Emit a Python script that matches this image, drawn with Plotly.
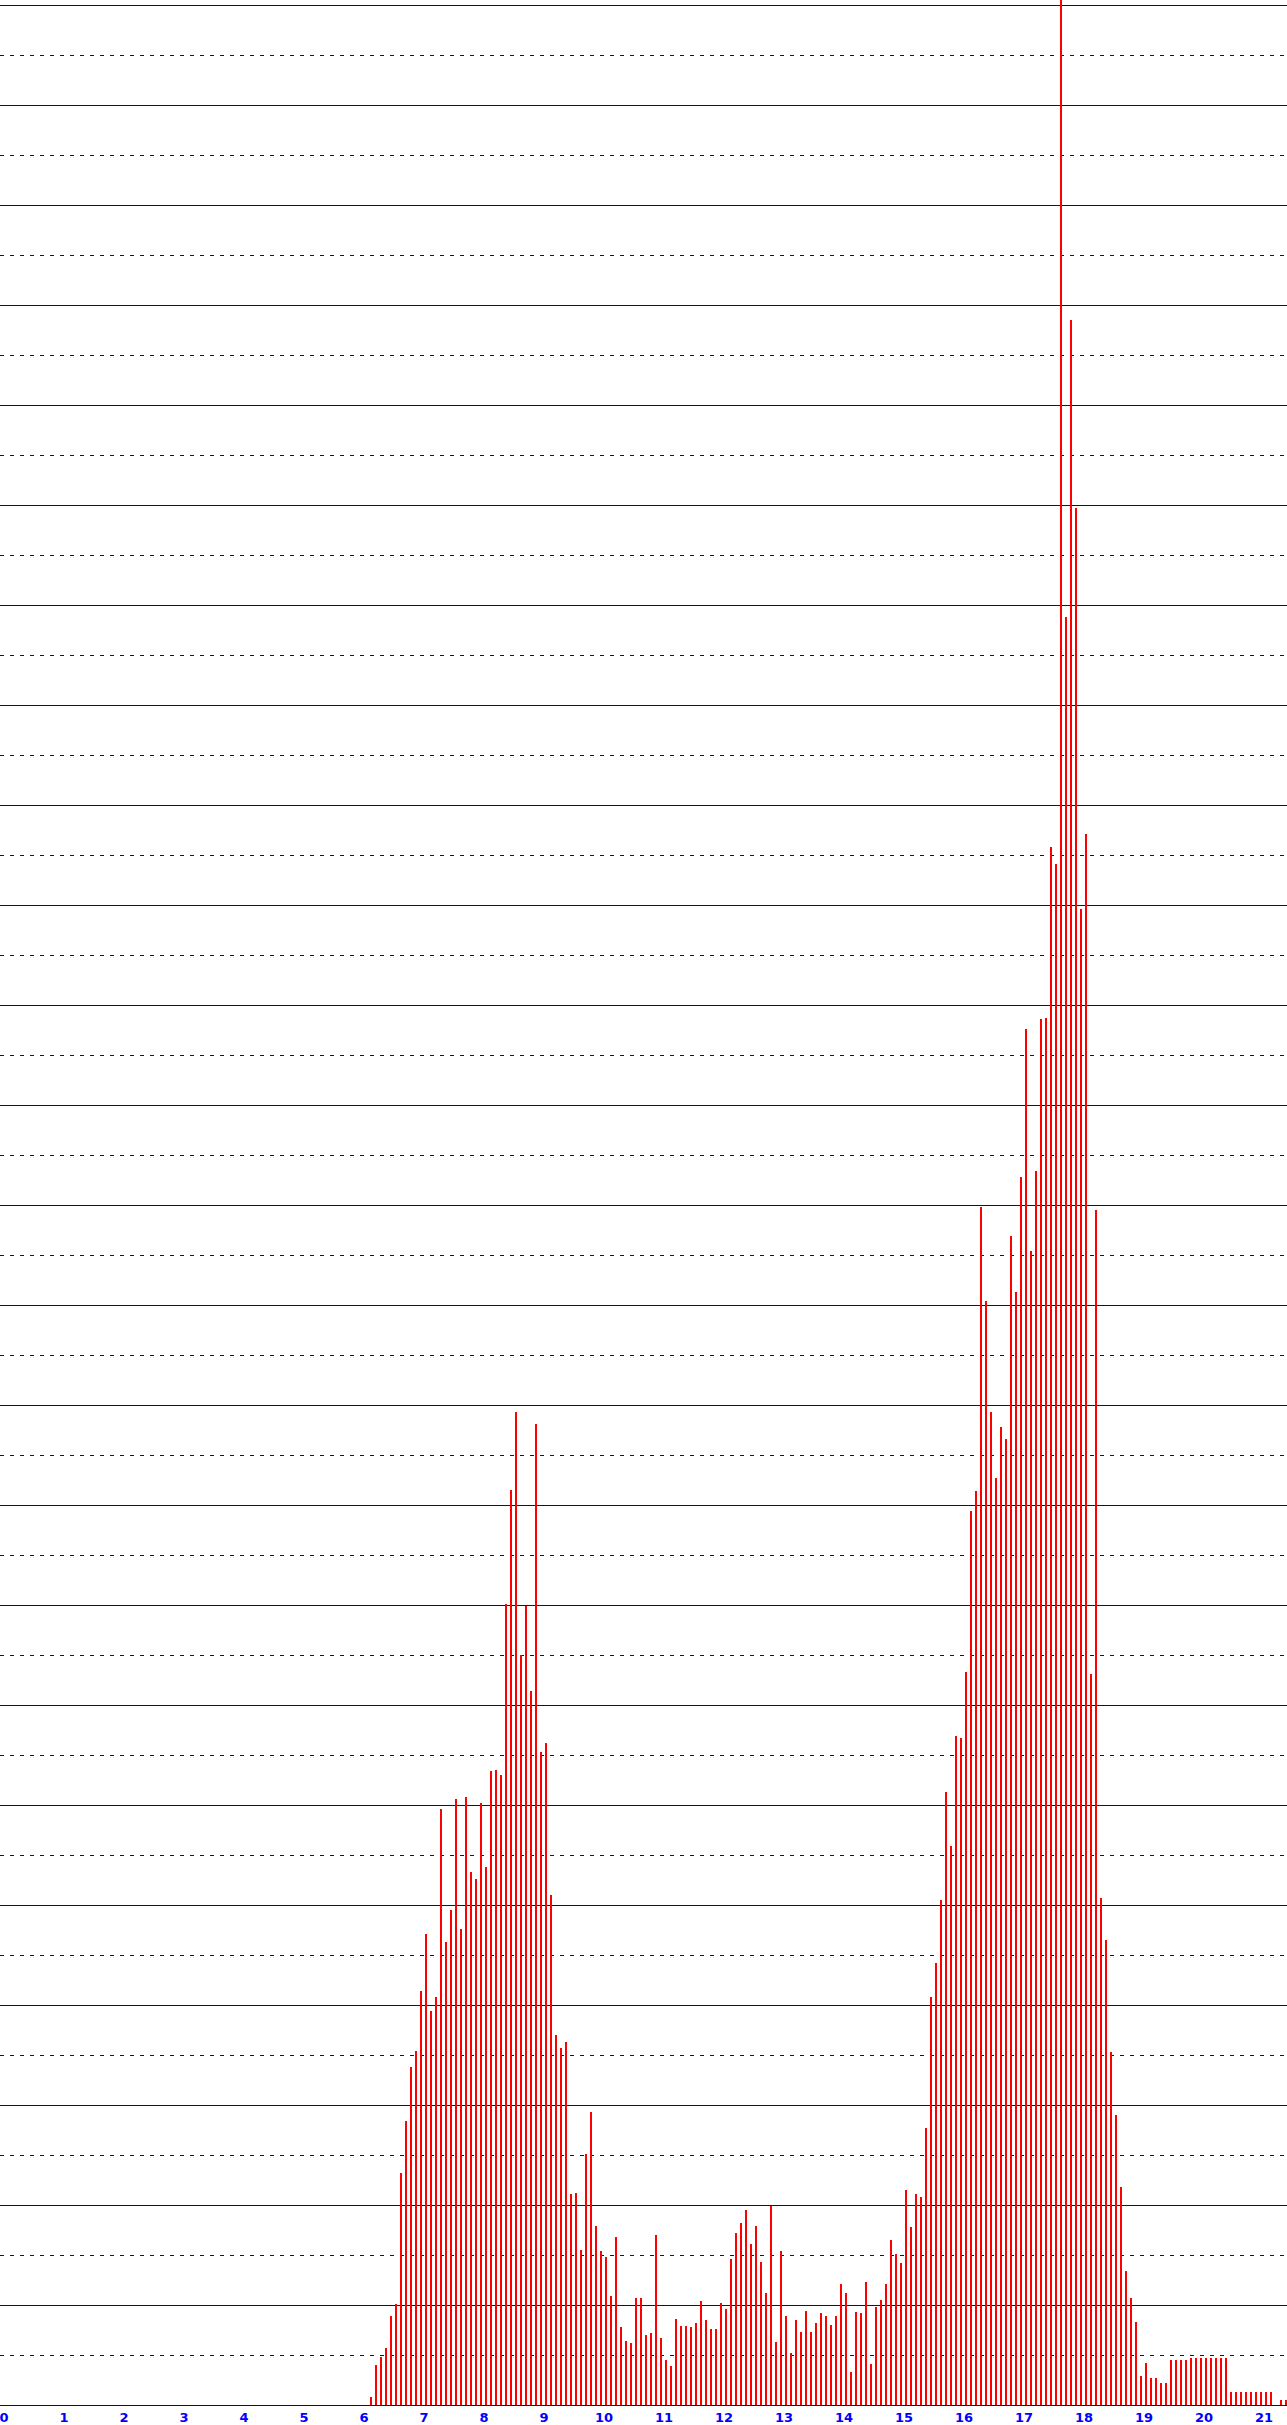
import plotly.graph_objects as go

# Histogram-style counts (value units: one solid grid line = 10)
bin_start = 73 / 12.0   # centre of first bar (x units)
bin_width = 1 / 12.0
counts = [
    0.8, 4.0, 4.8, 5.7, 8.9, 10.1, 23.2, 28.4, 33.8, 35.4,
    41.4, 47.1, 39.4, 40.8, 59.6, 46.3, 49.5, 60.6, 47.6, 60.8,
    53.3, 52.6, 60.2, 53.8, 63.4, 63.5, 63.0, 80.1, 91.5, 99.3,
    75.0, 79.9, 71.4, 98.1, 65.3, 66.2, 51.0, 37.0, 35.7, 36.3,
    21.1, 21.2, 15.5, 25.1, 29.3, 17.9, 15.4, 14.8, 10.9, 16.8,
    7.8, 6.4, 6.2, 10.7, 10.7, 7.0, 7.2, 17.0, 6.7, 4.5,
    3.9, 8.6, 7.9, 7.9, 7.8, 8.2, 10.4, 8.5, 7.6, 7.6,
    10.2, 9.6, 14.6, 17.2, 18.2, 19.5, 16.1, 17.9, 14.3, 11.2,
    19.9, 6.3, 15.4, 8.9, 5.2, 8.5, 7.3, 9.4, 7.3, 8.2,
    9.2, 8.9, 8.0, 8.9, 12.1, 11.2, 3.3, 9.3, 9.2, 12.3,
    4.1, 9.8, 10.5, 12.1, 16.5, 15.1, 14.2, 21.5, 17.8, 21.1,
    20.8, 27.7, 40.8, 44.2, 50.5, 61.3, 55.9, 66.9, 66.7, 73.3,
    89.4, 91.4, 119.8, 110.4, 99.3, 92.7, 97.8, 96.6, 116.9, 111.3,
    122.8, 137.6, 115.4, 123.4, 138.6, 138.7, 155.8, 154.1, 245.0, 178.8,
    208.5, 189.7, 149.6, 157.1, 73.1, 119.5, 50.7, 46.5, 35.3, 29.0,
    21.8, 13.4, 10.7, 8.3, 2.9, 4.2, 2.7, 2.7, 2.2, 2.2,
    4.5, 4.5, 4.5, 4.5, 4.7, 4.7, 4.7, 4.7, 4.7, 4.7,
    4.7, 4.7, 1.3, 1.3, 1.3, 1.3, 1.3, 1.3, 1.3, 1.3,
    1.3, 0.0, 0.5, 0.5,
]
x_centres = [bin_start + i * bin_width for i in range(len(counts))]
x_ticks = list(range(0, 22))
x_tick_labels = [str(t) for t in x_ticks]

BLUE = "#0000cc"

fig = go.Figure()
fig.add_trace(go.Bar(
    x=x_centres, y=counts, width=2 / 60.0,
    marker=dict(color="#ff0000", line=dict(width=0)),
    hoverinfo="skip",
))

fig.update_layout(
    width=1287, height=2425,
    margin=dict(l=0, r=0, t=0, b=20, pad=0),
    plot_bgcolor="white", paper_bgcolor="white",
    showlegend=False, bargap=0,
    xaxis=dict(
        range=[-0.1, 21.35], tickmode="array", tickvals=x_ticks, ticktext=x_tick_labels,
        showgrid=False, zeroline=False, showline=True, linecolor=BLUE, linewidth=1,
        ticks="", ticklabelshift=-2, ticklabelstandoff=0, ticklabeloverflow="allow",
        tickfont=dict(family="DejaVu Sans", size=13, color="#0000ff", weight="bold"),
        fixedrange=True,
    ),
    yaxis=dict(
        range=[0, 240.5], dtick=10, tick0=0, showticklabels=False, ticks="",
        showgrid=True, gridcolor=BLUE, gridwidth=1, zeroline=False,
        minor=dict(dtick=5, tick0=5, showgrid=True, gridcolor=BLUE, gridwidth=1,
                   griddash="4px,6px"),
        fixedrange=True,
    ),
)

fig.write_html("out.html", config={"displayModeBar": False, "staticPlot": True},
               post_script="document.body.style.margin='0';")
